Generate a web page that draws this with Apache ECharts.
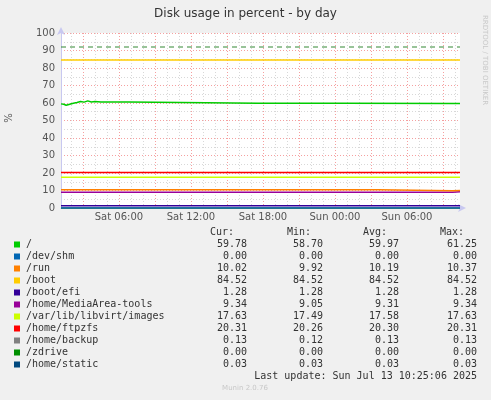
<!DOCTYPE html>
<html><head><meta charset="utf-8">
<script src="https://cdn.jsdelivr.net/npm/echarts@6/dist/echarts.min.js"></script>
<style>html,body{margin:0;padding:0;background:#f0f0f0}#c{width:491px;height:400px}</style>
</head><body><div id="c"></div>
<script>
// time in hours since Sat 00:00
const tStart = 1.17, tEnd = 34.42;
const hourTicks = [2,3,4,5,6,7,8,9,10,11,12,13,14,15,16,17,18,19,20,21,22,23,24,25,26,27,28,29,30,31,32,33,34];
const majorTicks = [3,6,9,12,15,18,21,24,27,30,33];
const labelTicks = [6,12,18,24,30];
const names = ['/','/dev/shm','/run','/boot','/boot/efi','/home/MediaArea-tools','/var/lib/libvirt/images','/home/ftpzfs','/home/backup','/zdrive','/home/static'];
const colors = ['#00cc00','#0066b3','#ff8000','#ffcc00','#330099','#990099','#ccff00','#ff0000','#808080','#008f00','#00487d'];
const sRoot = [[1.17,59.5],[1.4,59.3],[1.6,58.7],[1.9,59.3],[2.2,59.8],[2.5,60.3],[2.8,60.9],[3.1,60.5],[3.4,61.2],[3.7,60.6],[4.0,60.8],[4.5,60.6],[6.8,60.6],[6.8,59.8],[17.6,59.8],[17.65,59.3],[17.7,59.8],[24.6,59.8],[24.65,60.3],[24.7,59.8],[34.42,59.78]];
const sShm = [[1.17,0],[34.42,0]];
const sRun = [[1.17,10.37],[27.6,10.37],[27.6,9.92],[33.8,9.92],[33.8,10.02],[34.42,10.02]];
const sBoot = [[1.17,84.52],[34.42,84.52]];
const sEfi = [[1.17,1.28],[34.42,1.28]];
const sMedia = [[1.17,9.05],[33.8,9.05],[33.8,9.34],[34.42,9.34]];
const sLibvirt = [[1.17,17.6],[34.42,17.6]];
const sFtp = [[1.17,20.26],[3.0,20.26],[3.0,20.31],[34.42,20.31]];
const sBackup = [[1.17,0.13],[34.42,0.13]];
const sZdrive = [[1.17,0],[34.42,0]];
const sStatic = [[1.17,0.03],[34.42,0.03]];
const warnLevel = 92;
const cur = ['59.78','0.00','10.02','84.52','1.28','9.34','17.63','20.31','0.13','0.00','0.03'];
const mins = ['58.70','0.00','9.92','84.52','1.28','9.05','17.49','20.26','0.12','0.00','0.03'];
const avgs = ['59.97','0.00','10.19','84.52','1.28','9.31','17.58','20.30','0.13','0.00','0.03'];
const maxs = ['61.25','0.00','10.37','84.52','1.28','9.34','17.63','20.31','0.13','0.00','0.03'];
const seriesData = [sRoot,sShm,sRun,sBoot,sEfi,sMedia,sLibvirt,sFtp,sBackup,sZdrive,sStatic];

const mono = 'DejaVu Sans Mono';
const graphics = [];
const hdr = [['Cur:',234],['Min:',311],['Avg:',387],['Max:',464]];
hdr.forEach(h=>graphics.push({type:'text',x:h[1],y:232,style:{text:h[0],font:'10px '+mono,fill:'#333',align:'right',verticalAlign:'middle'}}));
names.forEach((n,i)=>{
  const y = 244.5 + i*12;
  graphics.push({type:'rect',shape:{x:14,y:y-3,width:6,height:6},style:{fill:colors[i]}});
  graphics.push({type:'text',x:26,y:y,style:{text:n,font:'10px '+mono,fill:'#333',verticalAlign:'middle'}});
  [[cur,247],[mins,323],[avgs,399],[maxs,477]].forEach(c=>graphics.push({type:'text',x:c[1],y:y,style:{text:c[0][i],font:'10px '+mono,fill:'#333',align:'right',verticalAlign:'middle'}}));
});
graphics.push({type:'text',x:477,y:376.5,style:{text:'Last update: Sun Jul 13 10:25:06 2025',font:'10px '+mono,fill:'#333',align:'right',verticalAlign:'middle'}});
graphics.push({type:'text',x:245,y:388,style:{text:'Munin 2.0.76',font:'7px DejaVu Sans',fill:'#c8c8c8',align:'center',verticalAlign:'middle'}});
graphics.push({type:'text',x:9,y:118,rotation:Math.PI/2,style:{text:'%',font:'10px DejaVu Sans',fill:'#555',align:'center',verticalAlign:'middle'}});
graphics.push({type:'text',x:485,y:60,rotation:-Math.PI/2,style:{text:'RRDTOOL / TOBI OETIKER',font:'7px DejaVu Sans',fill:'#c8c8c8',align:'center',verticalAlign:'middle'}});

function fmt(v){const d=v<24?'Sat ':'Sun ';const h=v%24;return d+String(h).padStart(2,'0')+':00';}
const series = seriesData.map((d,i)=>({type:'line',name:names[i],data:d,symbol:'none',lineStyle:{width:1.5,color:colors[i]},itemStyle:{color:colors[i]}}));
series.reverse();
series.push({type:'line',data:[[tStart,warnLevel],[tEnd,warnLevel]],symbol:'none',lineStyle:{width:1,type:[5,4],color:'#338833'},z:5});
const chart = echarts.init(document.getElementById('c'));
chart.setOption({
  backgroundColor:'#f0f0f0', animation:false,
  title:{text:'Disk usage in percent - by day',left:'center',top:3,textStyle:{fontFamily:'DejaVu Sans',fontSize:12,fontWeight:'normal',color:'#333'}},
  grid:{left:61,right:31,top:33,bottom:192,backgroundColor:'#fff',show:true,borderWidth:0},
  xAxis:[
    {type:'value',min:tStart,max:tEnd,axisLine:{show:false},axisTick:{show:false,customValues:hourTicks},
     axisLabel:{show:false,customValues:hourTicks},splitLine:{show:true,lineStyle:{color:'#d8d8d8',type:[1,2]}}},
    {type:'value',min:tStart,max:tEnd,position:'bottom',axisLine:{show:true,lineStyle:{color:'#c8c8f0'},symbol:['none','arrow'],symbolSize:[6,8],symbolOffset:[0,6]},
     axisTick:{show:false,customValues:majorTicks},axisLabel:{customValues:labelTicks,formatter:fmt,color:'#555',fontFamily:'DejaVu Sans',fontSize:10,margin:4},
     splitLine:{show:true,lineStyle:{color:'#f5a0a0',type:[1,2]}}}
  ],
  yAxis:[
    {type:'value',min:0,max:100,interval:5,axisLine:{show:false},axisTick:{show:false},axisLabel:{show:false},splitLine:{lineStyle:{color:'#d8d8d8',type:[1,2]}}},
    {type:'value',min:0,max:100,interval:10,position:'left',axisLine:{show:true,lineStyle:{color:'#c8c8f0'},symbol:['none','arrow'],symbolSize:[6,8],symbolOffset:[0,6]},
     axisTick:{show:false},axisLabel:{color:'#555',fontFamily:'DejaVu Sans',fontSize:10,margin:6},splitLine:{lineStyle:{color:'#f5a0a0',type:[1,2]}}}
  ],
  series: series,
  graphic: graphics
});
</script></body></html>
